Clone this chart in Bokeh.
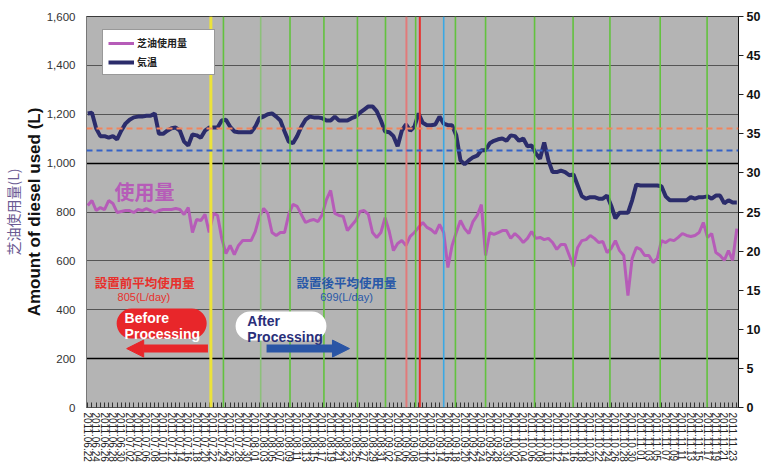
import datetime as dt
from bokeh.plotting import figure
from bokeh.models import (LinearAxis, Range1d, FixedTicker, NumeralTickFormatter, Span, Label,
                          Arrow, NormalHead, Legend, LegendItem, Title, Grid, ColumnDataSource,
                          BoxAnnotation)
from bokeh.embed import file_html
from bokeh.resources import INLINE

# ---------------- data ----------------
start_date = dt.date(2011, 6, 22)
n_days = 156
days = list(range(n_days))
date_labels = [(start_date + dt.timedelta(days=k)).strftime("%Y.%m.%d") for k in days]

usage = [827, 847, 806, 818, 810, 847, 835, 798, 802, 806,
         806, 798, 810, 806, 814, 806, 798, 806, 810, 810,
         810, 814, 810, 790, 818, 716, 769, 765, 790, 716,
         794, 786, 692, 630, 663, 626, 663, 683, 683, 683,
         720, 782, 814, 794, 716, 704, 716, 716, 790, 831,
         823, 790, 757, 765, 769, 761, 790, 851, 888, 794,
         786, 782, 724, 745, 765, 802, 806, 790, 716, 696,
         716, 777, 720, 642, 671, 683, 663, 700, 716, 737,
         757, 737, 728, 712, 749, 716, 573, 663, 716, 765,
         732, 712, 761, 786, 830, 622, 716, 708, 716, 724,
         724, 692, 712, 696, 675, 692, 720, 692, 696, 687,
         692, 675, 647, 667, 667, 622, 577, 655, 683, 687,
         704, 692, 675, 679, 634, 651, 683, 642, 622, 458,
         610, 655, 647, 622, 622, 593, 610, 683, 675, 687,
         683, 696, 712, 704, 700, 704, 716, 757, 696, 712,
         634, 622, 602, 642, 602, 732]

temperature = [37.6, 37.7, 35.7, 34.7, 34.7, 34.5, 34.7, 34.3, 35.4, 36.3,
               36.8, 37.1, 37.2, 37.2, 37.3, 37.3, 37.6, 35.0, 35.0, 35.4,
               35.7, 35.8, 35.4, 34.0, 33.5, 34.9, 34.8, 34.5, 35.4, 35.8,
               35.8, 35.8, 36.7, 36.8, 35.9, 35.3, 35.2, 35.2, 35.2, 35.2,
               35.9, 37.0, 37.2, 37.5, 37.6, 37.2, 36.7, 35.3, 34.0, 33.8,
               34.7, 35.9, 36.8, 37.2, 37.1, 37.1, 37.0, 36.7, 36.7, 37.2,
               36.7, 36.7, 36.7, 37.0, 37.2, 37.7, 38.1, 38.5, 38.5, 37.9,
               36.7, 35.3, 35.2, 34.7, 33.4, 35.4, 36.2, 35.4, 35.9, 37.6,
               36.4, 36.1, 36.1, 36.2, 37.2, 36.3, 36.1, 36.1, 34.8, 31.6,
               31.1, 31.6, 32.0, 32.2, 32.9, 32.9, 33.8, 34.1, 34.3, 34.4,
               34.1, 34.8, 34.7, 34.1, 34.4, 33.4, 33.5, 32.5, 31.8, 33.9,
               31.6, 30.1, 30.1, 30.3, 30.1, 29.7, 29.8, 28.4, 27.0, 26.7,
               26.9, 26.9, 26.7, 26.7, 27.1, 25.8, 24.2, 24.9, 24.9, 24.9,
               26.5, 28.5, 28.4, 28.4, 28.4, 28.4, 28.4, 28.3, 27.0, 26.5,
               26.5, 26.5, 26.5, 26.5, 26.9, 26.7, 26.9, 26.9, 27.0, 26.7,
               27.1, 27.1, 26.1, 26.5, 26.2, 26.2]

# event markers (day index)
yellow_events = [29.4]
green_events = [32.4, 48.3, 56.4, 64.4, 71.1, 78.3, 87.8, 95.0, 106.7, 115.9, 124.7, 136.7, 147.9]
light_green_events = [41.3]
light_red_events = [76.1]
red_events = [79.3]
blue_events = [85.0]

# reference (dashed) levels on the left axis
orange_level = [1142]
blue_level = [1052]

left_ticks = list(range(0, 1601, 200))
dark_grid = [200, 1000]
right_ticks = list(range(0, 51, 5))

before_avg = 805
after_avg = 699

LATIN = "Liberation Sans"
CJK = "Noto Sans CJK JP"

# ---------------- figure ----------------
p = figure(width=763, height=468, output_backend="svg", toolbar_location=None,
           x_range=Range1d(-0.3, 155.4), y_range=Range1d(0, 1600),
           min_border_left=85, min_border_top=16, min_border_bottom=61, min_border_right=0,
           background_fill_color="#b4b4b4", border_fill_color="white",
           outline_line_color="#3a3a3a", outline_line_width=1)
p.extra_y_ranges = {"temp": Range1d(0, 50)}

p.xgrid.visible = False
p.ygrid.ticker = FixedTicker(ticks=left_ticks)
p.ygrid.grid_line_color = "#555555"
p.ygrid.grid_line_width = 1
p.add_layout(Grid(dimension=1, ticker=FixedTicker(ticks=dark_grid),
                  grid_line_color="black", grid_line_width=1.5))

src = ColumnDataSource(dict(day=days, usage=usage, temp=temperature))

# event lines
def add_spans(vals, color, width):
    for v in vals:
        p.add_layout(Span(location=v, dimension="height", line_color=color, line_width=width))

add_spans(green_events, "#62c23e", 1.6)
add_spans(light_green_events, "#8cc07a", 1.6)
add_spans(yellow_events, "#ece33a", 3)
add_spans(light_red_events, "#e27a7a", 2)
add_spans(red_events, "#e8302c", 2)
add_spans(blue_events, "#3aa8e4", 1.6)

for v in orange_level:
    p.add_layout(Span(location=v, dimension="width", line_color="#f2845c",
                      line_width=2, line_dash="6 4"))
for v in blue_level:
    p.add_layout(Span(location=v, dimension="width", line_color="#3562c6",
                      line_width=2, line_dash="6 4"))

r_use = p.line("day", "usage", source=src, line_color="#b65cb8", line_width=3)
r_temp = p.line("day", "temp", source=src, y_range_name="temp",
                line_color="#2b2c6b", line_width=4)

# ---------------- axes ----------------
xa = p.xaxis[0]
xa.ticker = FixedTicker(ticks=days)
xa.major_label_overrides = {d: (date_labels[d] if d % 2 == 0 else "") for d in days}
xa.major_label_orientation = "vertical"
xa.major_label_text_font = LATIN
xa.major_label_text_font_size = "10px"
xa.major_label_text_color = "#222222"
xa.major_tick_in = 5
xa.major_tick_out = 0
xa.major_tick_line_color = "#333333"
xa.minor_tick_line_color = None
xa.axis_line_color = "#555555"
xa.major_label_standoff = 5

ya = p.yaxis[0]
ya.ticker = FixedTicker(ticks=left_ticks)
ya.formatter = NumeralTickFormatter(format="0,0")
ya.major_label_text_font = LATIN
ya.major_label_text_font_size = "11.5px"
ya.major_label_text_color = "#333333"
ya.major_tick_in = 0
ya.major_tick_out = 0
ya.minor_tick_line_color = None
ya.axis_line_color = "#777777"
ya.major_label_standoff = 11

ra = LinearAxis(y_range_name="temp", ticker=FixedTicker(ticks=right_ticks))
ra.major_label_text_font = LATIN
ra.major_label_text_font_size = "12.5px"
ra.major_label_text_font_style = "bold"
ra.major_label_text_color = "#111111"
ra.major_tick_out = 5
ra.major_tick_in = 0
ra.major_tick_line_color = "#222222"
ra.minor_tick_line_color = None
ra.axis_line_color = "#111111"
ra.major_label_standoff = 3
p.add_layout(ra, "right")

p.add_layout(Title(text="Amount of diesel used (L)", align="center",
                   text_font=LATIN, text_font_size="17px", text_font_style="bold",
                   text_color="#111111", standoff=0), "left")
p.add_layout(Title(text="芝油使用量(L)", align="center",
                   text_font=CJK, text_font_size="14px", text_font_style="normal",
                   text_color="#6a5a92", standoff=0), "left")

# ---------------- annotations ----------------
p.add_layout(Label(x=6.4, y=882, text="使用量", text_color="#b65cb8", text_font=CJK,
                   text_font_size="20px", text_font_style="bold", text_baseline="middle"))

p.add_layout(Label(x=13.6, y=511, text="設置前平均使用量", text_color="#e8302c", text_font=CJK,
                   text_font_size="12.5px", text_font_style="bold",
                   text_align="center", text_baseline="middle"))
p.add_layout(Label(x=13.4, y=454, text=f"{before_avg}(L/day)", text_color="#e8302c",
                   text_font=LATIN, text_font_size="11px",
                   text_align="center", text_baseline="middle"))
p.add_layout(Label(x=61.8, y=511, text="設置後平均使用量", text_color="#2858a8", text_font=CJK,
                   text_font_size="12.5px", text_font_style="bold",
                   text_align="center", text_baseline="middle"))
p.add_layout(Label(x=61.8, y=454, text=f"{after_avg}(L/day)", text_color="#2858a8",
                   text_font=LATIN, text_font_size="11px",
                   text_align="center", text_baseline="middle"))

p.add_layout(BoxAnnotation(left=6.9, right=28.4, top=405, bottom=282, border_radius=15,
                           fill_color="#e8262a", fill_alpha=1, line_color=None))
p.add_layout(BoxAnnotation(left=35.3, right=57.0, top=393, bottom=274, border_radius=15,
                           fill_color="white", fill_alpha=1, line_color=None))

p.add_layout(Label(x=8.8, y=401, text="Before\nProcessing", text_color="white", text_font=LATIN,
                   text_font_size="14px", text_font_style="bold", text_align="left",
                   text_baseline="top", text_line_height=1.0))
p.add_layout(Label(x=38.1, y=387, text="After\nProcessing", text_color="#2a2f7a", text_font=LATIN,
                   text_font_size="14px", text_font_style="bold", text_align="left",
                   text_baseline="top", text_line_height=1.0))

p.add_layout(Arrow(end=NormalHead(size=17, fill_color="#e8262a", line_color="#e8262a"),
                   x_start=28.7, y_start=241, x_end=9.3, y_end=241,
                   line_color="#e8262a", line_width=8))
p.add_layout(Arrow(end=NormalHead(size=17, fill_color="#2a55a5", line_color="#2a55a5"),
                   x_start=42.7, y_start=241, x_end=62.5, y_end=241,
                   line_color="#2a55a5", line_width=8))

legend = Legend(items=[LegendItem(label="芝油使用量", renderers=[r_use]),
                       LegendItem(label="気温", renderers=[r_temp])],
                location=(16, 332), padding=5, spacing=4, glyph_width=26, glyph_height=12,
                label_height=12, label_width=72, label_standoff=3, margin=0,
                label_text_font=CJK, label_text_font_size="10px", label_text_font_style="bold",
                label_text_color="#222222", border_line_color="#333333",
                background_fill_color="white", background_fill_alpha=1)
p.add_layout(legend, "center")

open("out.html", "w").write(file_html(p, INLINE))
